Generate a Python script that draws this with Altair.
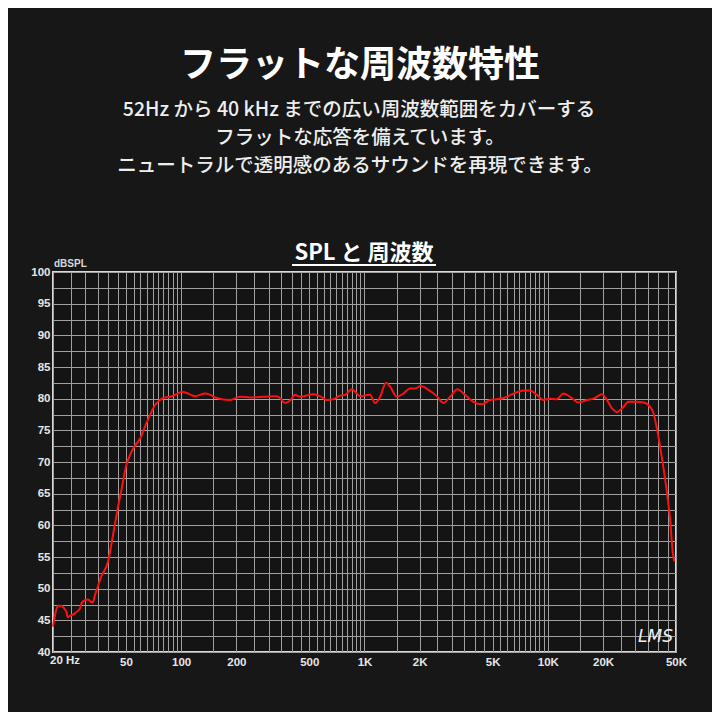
import altair as alt
import pandas as pd

# ---- data ----
freq_hz = [20, 20.8, 21.4, 22.3, 23.0, 23.8, 24.0, 24.8, 25.6, 26.4, 27.1, 28.1, 28.7, 29.9,
           31.2, 32.2, 32.9, 33.9, 35.1, 36.6, 37.9, 39.3, 40.1, 41.4, 43.0, 44.9, 47.4, 50.0,
           52.6, 55.5, 59.7, 63.5, 67.6, 72.0, 76.7, 80.0, 86.9, 94.6, 100.7, 107, 119, 135,
           144, 156, 185, 210, 238, 281, 332, 346, 369, 393, 418, 445, 526, 572, 623, 676,
           736, 783, 853, 889, 946, 1072, 1142, 1216, 1311, 1379, 1501, 1630, 1773, 1888,
           2028, 2230, 2480, 2694, 2930, 3212, 3538, 3926, 4364, 4843, 5270, 5724, 6490,
           7358, 8004, 8710, 9460, 10290, 11196, 12162, 13232, 14688, 16324, 17732, 19704,
           20980, 22340, 23780, 25840, 27520, 30580, 33220, 36140, 37680, 39320, 40980,
           43640, 46460, 48060, 49040]
spl_db = [44.0, 46.6, 47.3, 47.3, 46.9, 46.1, 45.5, 45.7, 45.9, 46.1, 46.4, 46.9, 47.8, 48.2,
          48.3, 47.9, 47.8, 49.0, 50.3, 51.9, 52.7, 53.7, 54.5, 56.6, 59.3, 62.4, 65.8, 69.3,
          71.1, 72.4, 73.7, 75.6, 77.4, 79.0, 79.8, 80.1, 80.3, 80.7, 81.1, 80.9, 80.4, 80.8,
          80.6, 80.1, 79.8, 80.3, 80.2, 80.3, 80.4, 80.1, 79.3, 79.7, 80.6, 80.3, 80.7, 80.4,
          79.8, 79.9, 80.5, 80.6, 81.5, 81.1, 80.4, 80.6, 79.3, 80.3, 82.5, 81.9, 80.3, 80.8,
          81.6, 81.6, 82.0, 81.4, 80.4, 79.3, 80.3, 81.5, 80.6, 79.5, 79.1, 79.8, 79.9, 80.1,
          80.8, 81.3, 81.3, 80.6, 79.8, 80.0, 79.9, 80.8, 80.3, 79.4, 79.8, 80.0, 80.7, 79.8,
          78.5, 77.9, 78.7, 79.5, 79.5, 79.4, 78.7, 77.7, 75.3, 72.4, 67.2, 60.8, 55.6, 54.3]

grid_freqs = [20, 25, 30, 35, 40, 45, 50, 55, 60, 65, 70, 75, 80, 85, 90, 95, 100,
              150, 200, 250, 300, 350, 400, 450, 500, 550, 600, 650, 700, 750, 800, 850,
              900, 950, 1000,
              1500, 2000, 2500, 3000, 3500, 4000, 4500, 5000, 5500, 6000, 6500, 7000, 7500,
              8000, 8500, 9000, 9500, 10000,
              15000, 20000, 25000, 30000, 35000, 40000, 45000, 50000]
label_freqs = [50, 100, 200, 500, 1000, 2000, 5000, 10000, 20000, 50000]
label_texts = ["50", "100", "200", "500", "1K", "2K", "5K", "10K", "20K", "50K"]
first_label = "20  Hz"
y_grid = [40, 42.5, 45, 47.5, 50, 52.5, 55, 57.5, 60, 62.5, 65, 67.5, 70, 72.5, 75, 77.5,
          80, 82.5, 85, 87.5, 90, 92.5, 95, 97.5, 100]

title = "フラットな周波数特性"
sub_lines = ["52Hz から 40 kHz までの広い周波数範囲をカバーする",
             "フラットな応答を備えています。",
             "ニュートラルで透明感のあるサウンドを再現できます。"]
chart_title = "SPL と 周波数"
y_unit = "dBSPL"
brand = "LMS"

BG = "#171717"
CJK = "Noto Sans CJK JP"
AXF = "Liberation Sans Narrow, Liberation Sans, Arial"

df = pd.DataFrame({"f": freq_hz, "spl": spl_db})

# label expression for x axis
expr = '""'
for v, t in zip(reversed(label_freqs), reversed(label_texts)):
    expr = f'datum.value == {v} ? "{t}" : ({expr})'

x_scale = alt.Scale(type="log", domain=[20, 50000], nice=False)
y_scale = alt.Scale(domain=[40, 100], nice=False, zero=False)

line = alt.Chart(df).mark_line(color="#ff1010", strokeWidth=2, interpolate="monotone").encode(
    x=alt.X("f:Q", scale=x_scale,
            axis=alt.Axis(values=grid_freqs, labelExpr=expr, title=None, grid=True,
                          gridColor="#a0a0a0", gridWidth=1, ticks=False, domain=False,
                          labelOverlap=False, labelColor="#e6e6e6", labelFont=AXF,
                          labelFontSize=11.5, labelFontWeight="bold", labelPadding=4,
                          labelFlush=False)),
    y=alt.Y("spl:Q", scale=y_scale,
            axis=alt.Axis(values=y_grid,
                          labelExpr='datum.value % 5 == 0 ? datum.label : ""',
                          title=None, grid=True, gridColor="#a0a0a0", gridWidth=1,
                          ticks=False, domain=False, labelOverlap=False,
                          labelColor="#e6e6e6", labelFont=AXF, labelFontSize=11.5,
                          labelFontWeight="bold", labelPadding=3)),
)

first_df = pd.DataFrame({"f": [20], "t": [first_label]})
first_lbl = alt.Chart(first_df).mark_text(
    align="left", baseline="middle", font=AXF, fontSize=11.5, fontWeight="bold",
    color="#e6e6e6", dx=-3
).encode(x=alt.X("f:Q", scale=x_scale), y=alt.value(389), text="t:N")

def txt(s, x, y, size, weight="normal", color="#ffffff", align="center", font=CJK,
        style=None):
    kw = dict(align=align, baseline="middle", font=font, fontSize=size,
              fontWeight=weight, color=color)
    if style:
        kw["fontStyle"] = style
    return alt.Chart(pd.DataFrame({"t": [s]})).mark_text(**kw).encode(
        x=alt.value(x), y=alt.value(y), text="t:N")

layers = [line, first_lbl,
          txt(title, 307, -206, 36, "bold"),
          txt(sub_lines[0], 306, -162, 19.5, 500, "#eeeeee"),
          txt(sub_lines[1], 307, -134, 19.5, 500, "#eeeeee"),
          txt(sub_lines[2], 307, -106, 19.5, 500, "#eeeeee"),
          txt(chart_title, 311, -19, 22, "bold"),
          txt(y_unit, 1, -8, 10, "bold", "#d8d8d8", "left", AXF),
          txt(brand, 585, 365, 17, "normal", "#f0f0f0", "left", "DejaVu Sans", "italic"),
          ]

underline = alt.Chart(pd.DataFrame({"a": [0]})).mark_rule(color="#ffffff", strokeWidth=2).encode(
    x=alt.value(239), x2=alt.value(383), y=alt.value(-7))
layers.append(underline)

chart = alt.layer(*layers).properties(
    width=623, height=380,
    autosize=alt.AutoSizeParams(type="none"),
    padding={"left": 45, "top": 264, "right": 36, "bottom": 60},
    background=BG,
).configure_view(
    fill="#141414", stroke="#d9d9d9", strokeWidth=2
)

chart.save("out.html", embed_options={"renderer": "svg", "actions": False})
